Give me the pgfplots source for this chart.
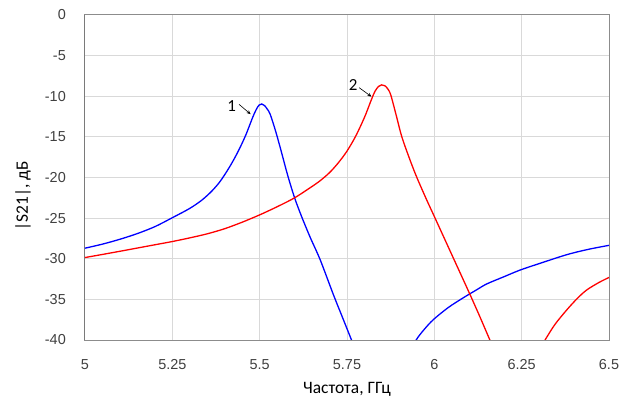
\documentclass[border=0pt]{standalone}
\usepackage{pgfplots}
\pgfplotsset{compat=1.18}
\usepackage{fontspec}
\setmainfont{Carlito}
\newfontfamily\arial{Liberation Sans}
\usetikzlibrary{arrows.meta}
\definecolor{gridc}{HTML}{D9D9D9}
\definecolor{framec}{HTML}{8C8C8C}
\definecolor{tickc}{HTML}{404040}
\definecolor{myblue}{HTML}{0000FF}
\definecolor{myred}{HTML}{FF0000}
\begin{document}
\begin{tikzpicture}
\begin{axis}[
  at={(0,0)}, anchor=south west,
  scale only axis, width=524bp, height=325bp,
  xmin=5, xmax=6.5, ymin=-40, ymax=0,
  xtick={5,5.25,5.5,5.75,6,6.25,6.5},
  xticklabels={5,5.25,5.5,5.75,6,6.25,6.5},
  ytick={-40,-35,-30,-25,-20,-15,-10,-5,0},
  yticklabels={-40,-35,-30,-25,-20,-15,-10,-5,0},
  major tick length=0pt,
  grid=major,
  major grid style={draw=gridc, line width=1bp},
  axis line style={draw=framec, line width=1bp},
  ticklabel style={font=\arial\fontsize{14.5}{16}\selectfont, text=tickc},
  yticklabel style={anchor=east, inner sep=0pt, xshift=-19bp},
  xticklabel style={anchor=north, inner sep=0pt, yshift=-19bp},
  xlabel={Частота, ГГц},
  ylabel={|S21|, дБ},
  label style={font=\fontsize{17.5}{20}\selectfont},
  xlabel style={at={(axis description cs:0.5,0)}, anchor=base, inner sep=0pt, yshift=-53bp},
  ylabel style={at={(axis description cs:-0.1088,0.4431)}, anchor=base, inner sep=0pt},
  clip=true,
  every axis plot/.append style={line width=1.3bp, smooth, tension=0.5},
]
% blue, first branch
\addplot[myblue] coordinates {
(5.00,-28.7) (5.05,-28.2) (5.10,-27.6) (5.15,-26.9) (5.20,-26.05) (5.25,-24.95)
(5.30,-23.8) (5.334,-22.8) (5.36,-21.8) (5.382,-20.75) (5.40,-19.65) (5.42,-18.25)
(5.44,-16.65) (5.46,-14.8) (5.48,-12.6) (5.49,-11.65) (5.498,-11.1) (5.506,-10.95)
(5.514,-11.15) (5.522,-11.6) (5.53,-12.2) (5.545,-14.2) (5.56,-16.5) (5.58,-19.7)
(5.60,-22.5) (5.62,-24.8) (5.645,-27.4) (5.673,-30.1) (5.71,-34.3) (5.735,-37.0)
(5.763,-40) (5.78,-41.8)
};
% blue, second branch
\addplot[myblue] coordinates {
(5.93,-41.7) (5.948,-40) (5.97,-38.75) (5.997,-37.5) (6.04,-36.0) (6.083,-34.8)
(6.12,-33.85) (6.15,-33.1) (6.20,-32.2) (6.245,-31.4) (6.30,-30.6) (6.379,-29.5)
(6.44,-28.85) (6.50,-28.35)
};
% red, first branch
\addplot[myred] coordinates {
(5.00,-29.85) (5.05,-29.47) (5.10,-29.08) (5.15,-28.68) (5.20,-28.28) (5.25,-27.88)
(5.30,-27.43) (5.35,-26.93) (5.40,-26.3) (5.45,-25.5) (5.50,-24.6) (5.55,-23.6)
(5.60,-22.5) (5.65,-21.1) (5.673,-20.4) (5.70,-19.4) (5.725,-18.2) (5.75,-16.75)
(5.775,-14.9) (5.80,-12.6) (5.82,-10.4) (5.83,-9.4) (5.84,-8.8) (5.849,-8.6)
(5.858,-8.7) (5.866,-9.05) (5.875,-9.8) (5.89,-12.2) (5.907,-15.0) (5.93,-17.8)
(5.95,-20.0) (5.978,-22.75) (6.00,-24.8) (6.05,-29.5) (6.10,-34.2) (6.13,-37.1)
(6.159,-40) (6.17,-41.1)
};
% red, second branch
\addplot[myred] coordinates {
(6.30,-41.3) (6.317,-40) (6.345,-38.1) (6.379,-36.3) (6.41,-34.85) (6.436,-33.85)
(6.47,-32.95) (6.50,-32.3)
};
% annotations
\node[font=\fontsize{17}{20}\selectfont, inner sep=0pt] at (axis cs:5.420,-11.2) {1};
\draw[-{Stealth[length=4bp,width=3.5bp]}, line width=0.6bp] (axis cs:5.441,-11.0) -- (axis cs:5.474,-12.2);
\node[font=\fontsize{17}{20}\selectfont, inner sep=0pt] at (axis cs:5.768,-8.6) {2};
\draw[-{Stealth[length=4bp,width=3.5bp]}, line width=0.6bp] (axis cs:5.785,-8.95) -- (axis cs:5.820,-10.05);
% black left and bottom axis lines
\draw[black, line width=1bp] (rel axis cs:0,1) -- (rel axis cs:0,0) -- (rel axis cs:1,0);
\end{axis}
\pgfresetboundingbox
\useasboundingbox (-85bp,-58bp) rectangle (539bp,340bp);
\end{tikzpicture}
\end{document}
